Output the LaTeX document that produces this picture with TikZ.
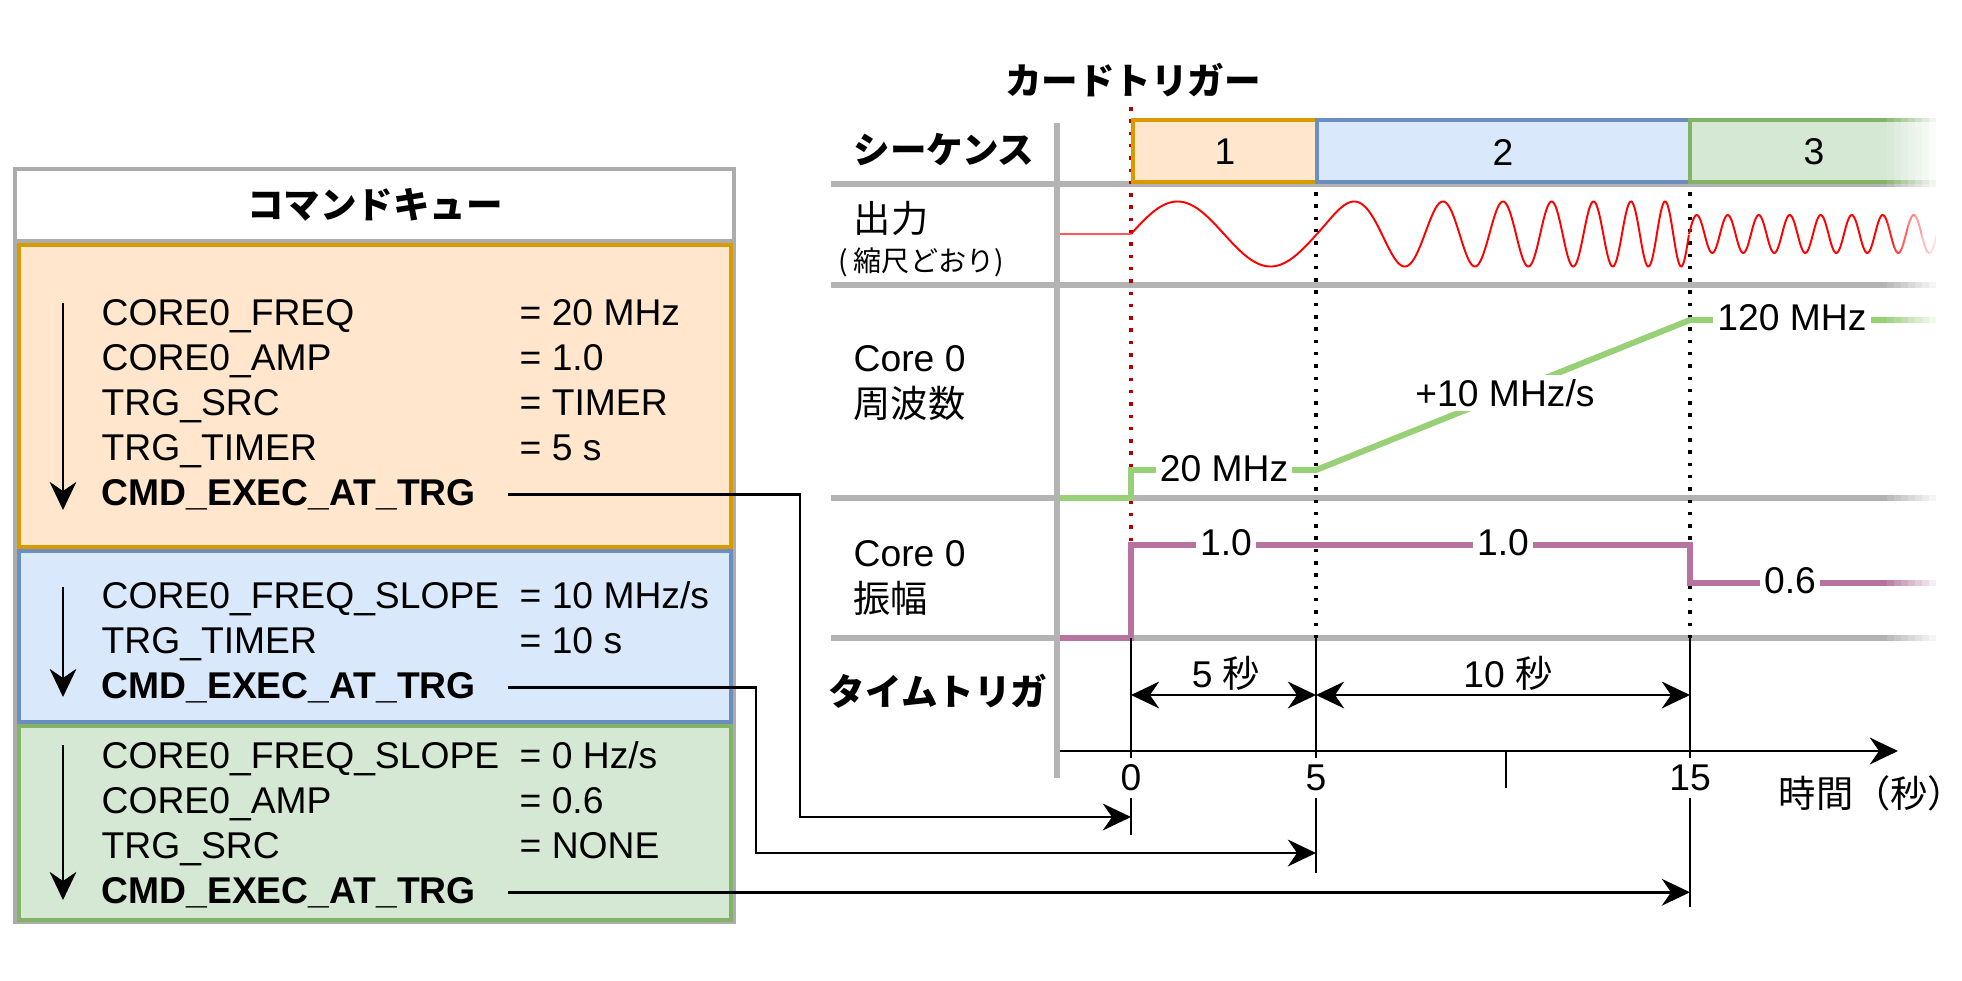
\documentclass[tikz,border=0pt]{standalone}
\usepackage{fontspec}
\setmainfont{Liberation Sans}
\newfontfamily\jp{Noto Sans CJK JP}
\usetikzlibrary{arrows.meta}
\definecolor{seqorange}{HTML}{FFE6CC}
\definecolor{seqorangeline}{HTML}{D79B00}
\definecolor{seqblue}{HTML}{DAE8FC}
\definecolor{seqblueline}{HTML}{6C8EBF}
\definecolor{seqgreen}{HTML}{D5E8D4}
\definecolor{seqgreenline}{HTML}{82B366}
\definecolor{gridgray}{HTML}{B3B3B3}
\definecolor{freqgreen}{HTML}{97D077}
\definecolor{amppurple}{HTML}{B5739D}
\definecolor{trigred}{HTML}{B20000}

\begin{document}
\begin{tikzpicture} [yscale = -1, font = \fontsize{10.6}{13.3}\selectfont,
  >={Stealth[length=8pt, width=7.6pt, inset=2.6pt]},
  frame/.style = {draw=gray!65, line width=1pt},
  boxone/.style = {draw=seqorangeline, fill=seqorange, line width=0.9pt},
  boxtwo/.style = {draw=seqblueline, fill=seqblue, line width=0.9pt},
  boxthree/.style = {draw=seqgreenline, fill=seqgreen, line width=0.9pt},
  head/.style = {font=\fontsize{10.4}{12.5}\selectfont\jp\bfseries},
  jplabel/.style = {font=\fontsize{10.6}{13.3}\selectfont\jp},
  qline/.style = {anchor=base west, inner sep=0pt},
  qexec/.style = {anchor=base west, inner sep=0pt, font=\fontsize{10.6}{13.3}\selectfont\bfseries},
  order/.style = {->, line width=0.6pt},
  flow/.style = {->, line width=0.75pt},
  span/.style = {<->, line width=0.75pt},
  rowline/.style = {draw=gridgray, line width=1.7pt},
  trigline/.style = {trigred, line width=1pt, dash pattern=on 1pt off 2.5pt},
  stepline/.style = {black, line width=1pt, dash pattern=on 1pt off 2.5pt},
  tickline/.style = {black, line width=0.6pt},
  wave/.style = {red, line width=0.55pt},
  freqtrace/.style = {freqgreen, line width=1.7pt},
  amptrace/.style = {amppurple, line width=1.7pt},
  onlabel/.style = {fill=white, inner sep=1.2pt},
  ticklabel/.style = {inner sep=1.7pt}]
\useasboundingbox (0,0) rectangle (19.62,9.81);

\draw[frame, fill=white] (0.15,1.69) rectangle (7.34,9.22);
\draw[frame] (0.15,2.41) -- (7.34,2.41);
\node[head] (qtitle) at (3.75,2.05) {コマンドキュー};
\draw[boxone] (0.19,2.45) rectangle (7.31,5.47);
\draw[boxtwo] (0.19,5.51) rectangle (7.31,7.22);
\draw[boxthree] (0.19,7.26) rectangle (7.31,9.20);

\node[qline] (a1) at (1.01,3.25) {CORE0\_FREQ};
\node[qline] (a1v) at (5.19,3.25) {= 20 MHz};
\node[qline] (a2) at (1.01,3.70) {CORE0\_AMP};
\node[qline] (a2v) at (5.19,3.70) {= 1.0};
\node[qline] (a3) at (1.01,4.15) {TRG\_SRC};
\node[qline] (a3v) at (5.19,4.15) {= TIMER};
\node[qline] (a4) at (1.01,4.60) {TRG\_TIMER};
\node[qline] (a4v) at (5.19,4.60) {= 5 s};
\node[qexec] (exec1) at (1.01,5.05) {CMD\_EXEC\_AT\_TRG};
\draw[order] (0.63,3.03) -- (0.63,5.10);

\node[qline] (b1) at (1.01,6.08) {CORE0\_FREQ\_SLOPE};
\node[qline] (b1v) at (5.19,6.08) {= 10 MHz/s};
\node[qline] (b2) at (1.01,6.53) {TRG\_TIMER};
\node[qline] (b2v) at (5.19,6.53) {= 10 s};
\node[qexec] (exec2) at (1.01,6.98) {CMD\_EXEC\_AT\_TRG};
\draw[order] (0.63,5.87) -- (0.63,6.97);

\node[qline] (c1) at (1.01,7.68) {CORE0\_FREQ\_SLOPE};
\node[qline] (c1v) at (5.19,7.68) {= 0 Hz/s};
\node[qline] (c2) at (1.01,8.13) {CORE0\_AMP};
\node[qline] (c2v) at (5.19,8.13) {= 0.6};
\node[qline] (c3) at (1.01,8.58) {TRG\_SRC};
\node[qline] (c3v) at (5.19,8.58) {= NONE};
\node[qexec] (exec3) at (1.01,9.03) {CMD\_EXEC\_AT\_TRG};
\draw[order] (0.63,7.45) -- (0.63,9.00);

\draw[rowline] (8.31,1.84) -- (19.40,1.84);
\draw[rowline] (8.31,2.85) -- (19.40,2.85);
\draw[rowline] (8.31,4.98) -- (19.40,4.98);
\draw[rowline] (8.31,6.38) -- (19.40,6.38);
\draw[rowline] (10.57,1.23) -- (10.57,7.78);

\coordinate (t0) at (11.31,6.38);
\coordinate (t5) at (13.16,6.38);
\coordinate (t15) at (16.90,6.38);
\draw[trigline] (11.31,1.07) -- (t0);
\draw[stepline] (13.16,1.92) -- (t5);
\draw[stepline] (16.90,1.92) -- (t15);

\draw[boxone] (11.33,1.20) rectangle (13.17,1.82);
\draw[boxtwo] (13.17,1.20) rectangle (16.90,1.82);
\draw[boxthree] (16.90,1.20) rectangle (19.40,1.82);
\node (seq1) at (12.25,1.52) {1};
\node (seq2) at (15.03,1.52) {2};
\node (seq3) at (18.14,1.52) {3};

\node[head] (cardtrg) at (11.33,0.80) {カードトリガー};
\node[head] (seqlabel) at (9.44,1.50) {シーケンス};
\node[jplabel] (outlabel) at (8.91,2.18) {出力};
\node[font=\fontsize{8}{9.6}\selectfont\jp] (scalenote) at (9.21,2.62) {( 縮尺どおり)};
\node[right, align=left, inner sep=0pt] (freqlabel) at (8.53,3.83) {Core 0\\{\jp 周波数}};
\node[right, align=left, inner sep=0pt] (amplabel) at (8.53,5.78) {Core 0\\{\jp 振幅}};
\node[head] (timelabel) at (9.38,6.91) {タイムトリガ};

\draw[wave, red!65] (10.60,2.34) -- (11.31,2.34);
\draw[wave, domain=0:5, samples=100, variable=\t] plot ({11.31+0.372*\t}, {2.34-0.325*sin(72*\t)});
\draw[wave, domain=0:10, samples=400, variable=\t] plot ({13.17+0.372*\t}, {2.34-0.325*sin(72*\t+18*\t*\t)});
\draw[wave, domain=0:6.8, samples=300, variable=\t] plot ({16.89+0.372*\t}, {2.34-0.19*sin(432*\t)});

\draw[freqtrace] (10.60,4.98) -- (11.31,4.98) -- (11.31,4.70) -- (13.16,4.70) -- (16.90,3.20) -- (19.40,3.20);
\node[onlabel] (f20) at (12.24,4.69) {20 MHz};
\node[onlabel] (fslope) at (15.05,3.93) {+10 MHz/s};
\node[onlabel] (f120) at (17.92,3.18) {120 MHz};

\draw[amptrace] (10.60,6.38) -- (11.31,6.38) -- (11.31,5.45) -- (16.90,5.45) -- (16.90,5.83) -- (19.40,5.83);
\node[onlabel] (amp1) at (12.26,5.43) {1.0};
\node[onlabel] (amp2) at (15.03,5.43) {1.0};
\node[onlabel] (amp3) at (17.90,5.81) {0.6};

\node[ticklabel] (lab0) at (11.31,7.78) {0};
\node[ticklabel] (lab5) at (13.16,7.78) {5};
\node[ticklabel] (lab15) at (16.90,7.78) {15};
\draw[tickline] (t0) -- (lab0.north);
\draw[tickline] (t5) -- (lab5.north);
\draw[tickline] (t15) -- (lab15.north);
\draw[tickline] (lab0.south) -- (11.31,8.35);
\draw[tickline] (lab5.south) -- (13.16,8.73);
\draw[tickline] (lab15.south) -- (16.90,9.07);
\draw[tickline] (15.06,7.51) -- (15.06,7.88);

\draw[flow] (10.60,7.51) -- (18.98,7.51);
\node[jplabel] (timeunit) at (18.72,7.93) {時間（秒）};

\coordinate (d0) at (11.31,6.95);
\coordinate (d5) at (13.16,6.95);
\coordinate (d15) at (16.90,6.95);
\draw[span] (d0) -- (d5);
\draw[span] (d5) -- (d15);
\node (gap5) at (12.26,6.73) {5 {\jp 秒}};
\node (gap10) at (15.08,6.73) {10 {\jp 秒}};

\coordinate (bend1) at (8.00,8.17);
\coordinate (hit0) at (11.31,8.17);
\coordinate (bend2) at (7.56,8.53);
\coordinate (hit5) at (13.16,8.53);
\coordinate (hit15) at (16.90,8.92);
\draw[flow] ([xshift=0.32cm]exec1.east) -| (bend1) -- (hit0);
\draw[flow] ([xshift=0.32cm]exec2.east) -| (bend2) -- (hit5);
\draw[flow] ([xshift=0.32cm]exec3.east) -- (exec3.east -| hit15);

\foreach \k [evaluate=\k as \op using \k/8] in {1,...,8}
  \fill[white, opacity=\op] ({18.80+0.07*\k},1.15) rectangle ++(0.07,5.30);
\end{tikzpicture}
\end{document}
